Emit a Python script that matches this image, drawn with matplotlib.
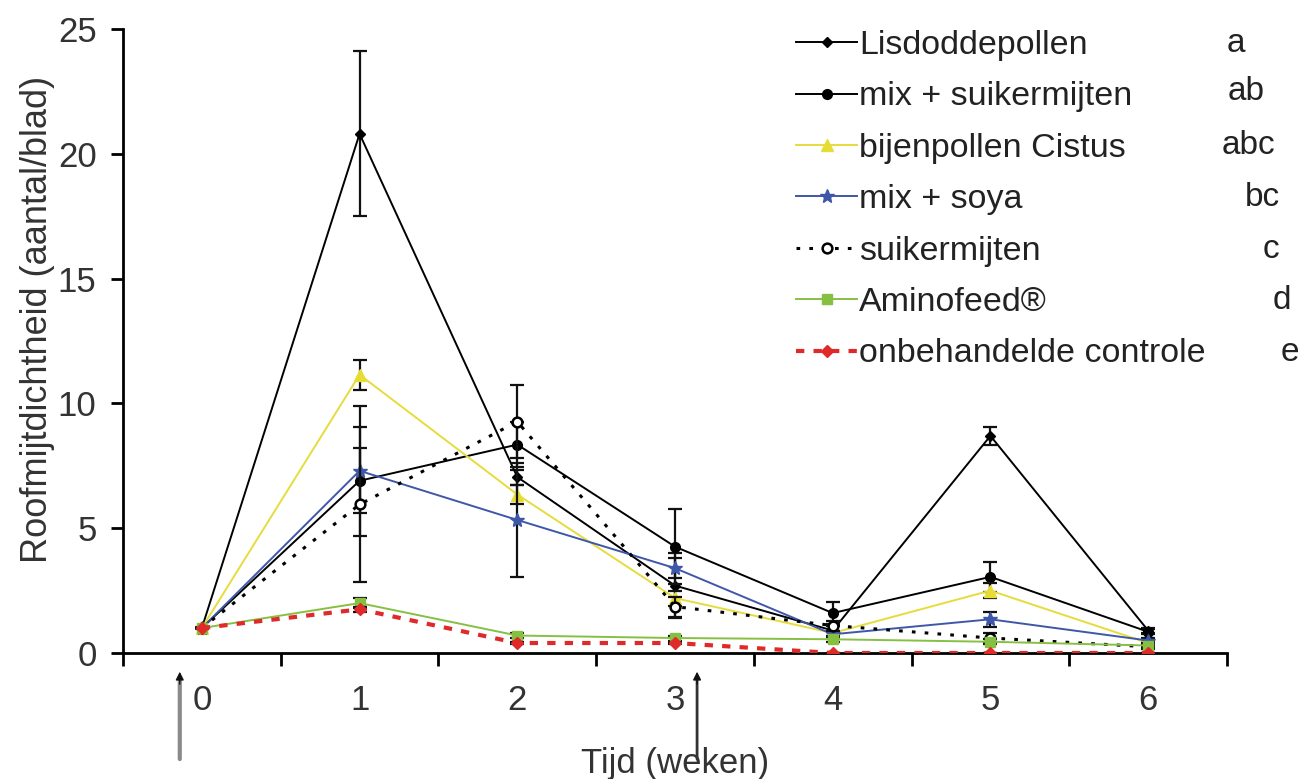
import matplotlib
matplotlib.use("Agg")
import matplotlib.pyplot as plt

plt.rcParams['font.family'] = ['Liberation Sans', 'DejaVu Sans']

# weeks after first release
weeks = [0, 1, 2, 3, 4, 5, 6]
series_names = ['Lisdoddepollen', 'mix + suikermijten', 'bijenpollen Cistus',
                'mix + soya', 'suikermijten', 'Aminofeed®', 'onbehandelde controle']
letters = ['a', 'ab', 'abc', 'bc', 'c', 'd', 'e']

# mean predatory mites per leaf
lisdodde = [1.0, 20.8, 7.05, 2.7, 0.9, 8.7, 0.9]
mix_suiker = [1.0, 6.9, 8.35, 4.26, 1.6, 3.05, 0.85]
cistus = [1.0, 11.15, 6.35, 2.2, 0.8, 2.5, 0.4]
mix_soya = [1.0, 7.3, 5.33, 3.4, 0.75, 1.35, 0.5]
suiker = [1.0, 5.95, 9.27, 1.86, 1.1, 0.6, 0.25]
aminofeed = [1.0, 2.0, 0.7, 0.6, 0.55, 0.45, 0.3]
controle = [1.0, 1.75, 0.4, 0.4, 0.0, 0.0, 0.0]

# standard errors
lisdodde_err = [0, 3.3, 0.3, 1.3, 0.2, 0.35, 0.1]
mix_suiker_err = [0, 1.3, 0.9, 1.5, 0.45, 0.6, 0.1]
cistus_err = [0, 0.6, 0.4, 0.3, 0.1, 0.3, 0.1]
mix_soya_err = [0, 2.6, 2.3, 0.4, 0.1, 0.3, 0.1]
suiker_err = [0, 3.1, 1.45, 0.4, 0.2, 0.2, 0.1]
aminofeed_err = [0, 0.2, 0.1, 0.1, 0.1, 0.1, 0.05]
controle_err = [0, 0.1, 0.05, 0.05, 0.0, 0.0, 0.0]

# weeks where the mites were released (arrows under the axis)
release_weeks = [-0.14, 3.14]

styles = [
    dict(color='black', ls='-', lw=1.4, marker='D', ms=5, mfc='black'),
    dict(color='black', ls='-', lw=1.4, marker='o', ms=7, mfc='black'),
    dict(color='#e6dc3c', ls='-', lw=1.4, marker='^', ms=8, mfc='#e8dc30'),
    dict(color='#3f57a8', ls='-', lw=1.4, marker='*', ms=10, mfc='#3f57a8'),
    dict(color='black', ls=(0, (1.2, 3)), lw=2.2, marker='o', ms=7, mfc='white', mew=1.8),
    dict(color='#86c043', ls='-', lw=1.4, marker='s', ms=7, mfc='#86c043'),
    dict(color='#e02a2a', ls=(0, (2, 2.2)), lw=3, marker='D', ms=6, mfc='#e02a2a'),
]

all_means = [lisdodde, mix_suiker, cistus, mix_soya, suiker, aminofeed, controle]
all_errs = [lisdodde_err, mix_suiker_err, cistus_err, mix_soya_err, suiker_err,
            aminofeed_err, controle_err]

fig = plt.figure(figsize=(13.01, 7.79), dpi=100)
ax = fig.add_axes([123 / 1301, 1 - 653 / 779, (1227 - 123) / 1301, (653 - 29) / 779])

handles = []
for i, (name, ys, es, st) in enumerate(zip(series_names, all_means, all_errs, styles)):
    ax.errorbar(weeks, ys, yerr=es, fmt='none', ecolor='#111111', elinewidth=1.6,
                capsize=5, capthick=1.6, zorder=2 + i)
    h, = ax.plot(weeks, ys, label=name, zorder=3 + i, mec=st['color'], **st)
    handles.append(h)

ax.set_xlim(-0.5, 6.5)
ax.set_ylim(0, 25)
ax.set_xticks(weeks)
ax.set_xticks([w - 0.5 for w in weeks] + [6.5], minor=True)
ax.set_yticks([0, 5, 10, 15, 20, 25])
ax.tick_params(axis='x', which='major', length=0, pad=22, labelsize=25, labelcolor='#333333')
ax.tick_params(axis='x', which='minor', length=9, width=2, direction='out')
ax.tick_params(axis='y', length=9, width=2, pad=10, labelsize=25, labelcolor='#333333')
for side in ['top', 'right']:
    ax.spines[side].set_visible(False)
for side in ['left', 'bottom']:
    ax.spines[side].set_linewidth(2)

ax.set_xlabel('Tijd (weken)', fontsize=25, color='#333333', labelpad=22)
ax.set_ylabel('Roofmijtdichtheid (aantal/blad)', fontsize=26, color='#333333')
ax.yaxis.set_label_coords(-0.062, 0.534)

# arrows marking the release moments: shaft plus small dark head
for k, rw in enumerate(release_weeks):
    shaft = '#8a8a8a' if k == 0 else '#333333'
    ax.annotate('', xy=(rw, -0.04), xytext=(rw, -0.17),
                xycoords=('data', 'axes fraction'), textcoords=('data', 'axes fraction'),
                arrowprops=dict(arrowstyle='-', color=shaft, lw=3 if k == 0 else 2,
                                shrinkA=0, shrinkB=0),
                annotation_clip=False)
    ax.annotate('', xy=(rw, -0.03), xytext=(rw, -0.05),
                xycoords=('data', 'axes fraction'), textcoords=('data', 'axes fraction'),
                arrowprops=dict(arrowstyle='-|>', color='#111111', lw=1,
                                mutation_scale=12, shrinkA=0, shrinkB=0),
                annotation_clip=False)

leg = ax.legend(handles=handles, loc='upper left', bbox_to_anchor=(796 / 1301, 1 - 30 / 779),
                bbox_transform=fig.transFigure, frameon=False, fontsize=24.5,
                handlelength=1.8, handletextpad=0.06, labelspacing=0.6, borderpad=0,
                borderaxespad=0)
for t in leg.get_texts():
    t.set_color('#222222')

letter_x = [1236, 1246, 1248, 1262, 1271, 1282, 1290]
letter_y = [44, 92, 145, 197, 249, 300, 352]
for lt, lx, ly in zip(letters, letter_x, letter_y):
    fig.text(lx / 1301, 1 - ly / 779, lt, fontsize=24, color='#222222', ha='center', va='center')

fig.savefig('out.png', dpi=100)
